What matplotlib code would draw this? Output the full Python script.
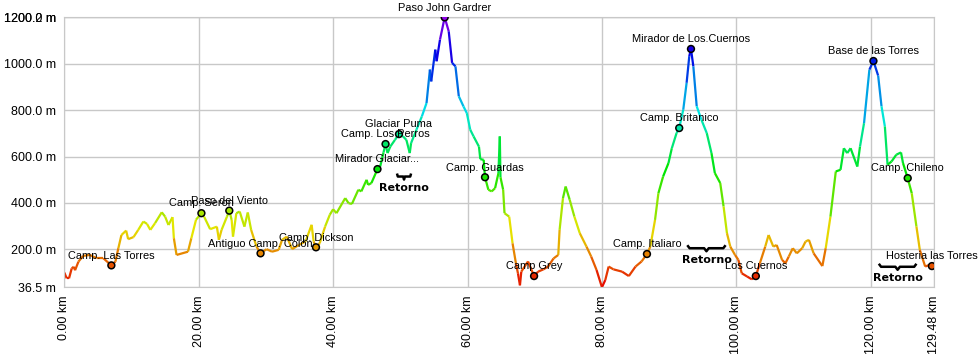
import numpy as np
import matplotlib
matplotlib.use('Agg')
import matplotlib.pyplot as plt
from matplotlib.collections import LineCollection
from matplotlib.colors import ListedColormap, Normalize, hsv_to_rgb

# elevation profile (km, m)
dist_km = [0.0, 0.36, 0.7, 1.1, 1.4, 1.6, 2.1, 2.8, 3.8, 4.8, 5.8, 7.0, 7.6, 8.04, 8.5, 9.2, 9.5, 10.3,
           11.0, 11.76, 12.3, 12.8, 13.5, 14.5, 15.0, 15.5, 16.1, 16.3, 16.7, 18.4, 18.9, 19.6, 20.4,
           20.8, 21.7, 22.7, 23.0, 23.4, 24.2, 24.55, 24.9, 25.1, 25.6, 26.1, 26.8, 27.3, 27.8, 28.6,
           29.2, 30.1, 30.9, 31.9, 32.4, 33.1, 33.9, 34.9, 35.9, 36.8, 37.1, 37.45, 38.0, 38.8, 39.5,
           40.0, 40.5, 41.8, 42.3, 42.8, 43.75, 44.2, 44.98, 45.2, 45.7, 46.6, 47.0, 47.5, 47.8, 48.1,
           48.5, 49.2, 49.8, 50.4, 50.9, 51.4, 51.6, 52.4, 53.2, 53.9, 54.4, 54.6, 55.2, 55.4, 55.9,
           56.6, 57.2, 57.7, 58.2, 58.7, 59.4, 59.9, 60.4, 60.9, 61.7, 61.9, 62.4, 62.6, 63.1, 63.6,
           64.1, 64.6, 64.8, 64.9, 65.3, 65.5, 66.2, 66.7, 67.2, 67.5, 67.8, 68.0, 69.0, 69.9, 70.5,
           71.3, 72.0, 72.8, 73.5, 73.7, 74.2, 74.6, 75.2, 75.9, 76.7, 77.7, 78.4, 79.2, 80.0, 80.5,
           81.0, 81.7, 83.0, 84.0, 85.0, 85.9, 86.7, 87.2, 87.9, 88.4, 89.1, 89.9, 90.4, 91.1, 91.5,
           92.1, 92.6, 93.0, 93.25, 93.6, 94.1, 94.8, 95.6, 96.3, 96.8, 97.6, 98.1, 98.6, 99.1, 99.8,
           100.3, 100.8, 101.6, 102.3, 102.9, 103.5, 104.3, 104.8, 105.5, 106.0, 106.8, 107.3, 107.8,
           108.4, 109.0, 109.8, 110.3, 110.8, 111.5, 112.8, 113.3, 114.0, 114.8, 115.5, 116.0, 116.5,
           117.0, 118.0, 118.4, 119.0, 119.8, 120.4, 121.1, 121.6, 122.1, 122.5, 123.1, 123.8, 124.5,
           124.8, 125.5, 126.1, 126.8, 127.3, 128.1, 128.7, 129.1, 129.48]
elev_m = [100, 75, 75, 118, 125, 110, 147, 172, 176, 162, 162, 131, 147, 205, 262, 281, 244, 253,
          284, 320, 310, 284, 313, 360, 341, 305, 339, 248, 176, 190, 248, 328, 356,
          341, 287, 298, 241, 284, 341, 367, 327, 255, 356, 363, 298, 359, 284, 212,
          183, 201, 190, 198, 241, 255, 201, 219, 234, 306, 234, 209, 226, 298, 349,
          373, 356, 421, 399, 396, 457, 450, 500, 478, 486, 546, 557, 618, 654, 615,
          643, 672, 697, 687, 672, 615, 658, 716, 773, 831, 975, 924, 1061, 1011, 1104,
          1200.2, 1140, 1004, 989, 860, 816, 787, 716, 687, 643, 589, 586, 511, 457, 450,
          464, 529, 687, 511, 457, 356, 341, 226, 140, 97, 45, 104, 148, 85, 104,
          114, 126, 161, 176, 284, 421, 471, 414, 341, 270, 212, 169, 111, 36.5, 68,
          126, 114, 104, 85, 126, 148, 180, 212, 327, 442, 514, 572, 636, 701, 723,
          802, 918, 1033, 1064, 989, 817, 759, 701, 615, 529, 486, 385, 270, 212, 176,
          155, 97, 83, 71, 85, 140, 212, 262, 212, 219, 155, 140, 169,
          205, 183, 205, 234, 241, 183, 128, 205, 341, 536, 543, 636, 615,
          636, 557, 643, 744, 975, 1012, 949, 817, 730, 565, 579, 608, 618,
          572, 507, 442, 298, 198, 126, 133, 128, 140]

wp_names = ['Camp. Las Torres', 'Camp. Seron', 'Paso del Viento', 'Antiguo Camp. Colon',
            'Camp. Dickson', 'Mirador Glaciar...', 'Camp. Los Perros', 'Glaciar Puma',
            'Paso John Gardrer', 'Camp. Guardas', 'Camp Grey', 'Camp. Italiaro',
            'Camp. Britanico', 'Mirador de Los.Cuernos', 'Los Cuernos', 'Base de las Torres',
            'Camp. Chileno', 'Hosteria las Torres']
wp_km = [7.0, 20.4, 24.55, 29.2, 37.45, 46.6, 47.8, 49.8, 56.6, 62.6, 69.9, 86.7,
         91.5, 93.25, 102.9, 120.4, 125.5, 129.1]
wp_m = [131, 356, 367, 183, 209, 546, 654, 697, 1200.2, 511, 85, 180,
        723, 1064, 85, 1012, 507, 128]

# "Retorno" braces: start km, end km, elevation
ret_start = [49.5, 92.7, 121.2]
ret_end = [51.6, 98.4, 126.8]
ret_m = [514, 205, 125]

x_ticks = [0, 20, 40, 60, 80, 100, 120, 129.48]
y_ticks = [36.5, 200, 400, 600, 800, 1000, 1200, 1200.2]

# rainbow from red (low) to violet (high)
hues = np.linspace(0, 0.77, 256)
cmap = ListedColormap(hsv_to_rgb(np.column_stack([hues, np.ones(256), np.full(256, 0.9)])))
norm = Normalize(36.5, 1200.2)

plt.rcParams['font.family'] = ['Liberation Sans', 'DejaVu Sans']

fig = plt.figure(figsize=(9.79, 3.54), dpi=100)
ax = fig.add_axes([0.0657, 0.1884, 0.8888, 0.7626])

x = np.array(dist_km)
y = np.array(elev_m)
pts = np.column_stack([x, y]).reshape(-1, 1, 2)
segs = np.concatenate([pts[:-1], pts[1:]], axis=1)
lc = LineCollection(segs, cmap=cmap, norm=norm, linewidths=1.6)
lc.set_array((y[:-1] + y[1:]) / 2)
ax.add_collection(lc)

ax.scatter(wp_km, wp_m, c=wp_m, cmap=cmap, norm=norm, s=24, edgecolors='black',
           linewidths=1.1, zorder=4)
for name, xk, ym in zip(wp_names, wp_km, wp_m):
    ax.annotate(name, (xk, ym), xytext=(0, 7), textcoords='offset points',
                ha='center', va='center', fontsize=7.9, zorder=5)

# braces
for x0, x1, ym in zip(ret_start, ret_end, ret_m):
    w = x1 - x0
    h = 13
    bx = [x0, x0 + 0.06 * w, x0 + 0.44 * w, x0 + 0.5 * w, x0 + 0.56 * w, x0 + 0.94 * w, x1]
    by = [ym + h, ym, ym, ym - h, ym, ym, ym + h]
    ax.plot(bx, by, color='black', lw=1.8, solid_capstyle='butt')
    ax.text((x0 + x1) / 2, ym - 50, 'Retorno', ha='center', va='center',
            fontsize=8, fontweight='bold', family='DejaVu Sans')

ax.set_xlim(0, 129.48)
ax.set_ylim(36.5, 1200.2)
ax.set_xticks(x_ticks)
ax.set_xticklabels([f'{v:.2f} km' for v in x_ticks], rotation=90, fontsize=9)
ax.set_yticks(y_ticks)
ax.set_yticklabels([f'{v:.1f} m' for v in y_ticks], fontsize=9)
ax.tick_params(length=0, pad=6)
ax.grid(True, color='#c8c8c8', lw=1)
for s in ax.spines.values():
    s.set_color('#c8c8c8')

fig.savefig('out.png', dpi=100)
